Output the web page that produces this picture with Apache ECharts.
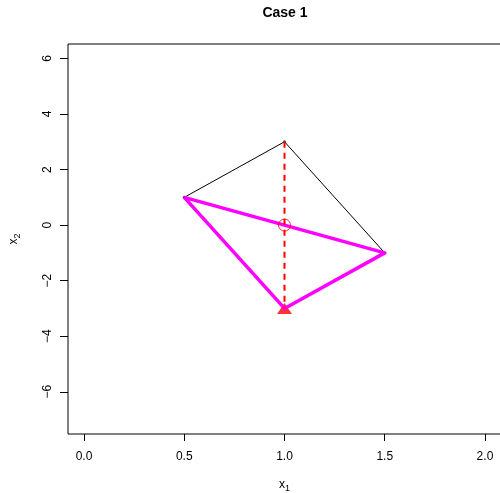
<!DOCTYPE html>
<html>
<head>
<meta charset="utf-8">
<script src="https://cdn.jsdelivr.net/npm/echarts@6/dist/echarts.min.js"></script>
<style>
html,body{margin:0;padding:0;background:#fff;}
#chart{width:500px;height:493px;}
</style>
</head>
<body>
<div id="chart"></div>
<script>
// ---- data ----
const titleText = 'Case 1';
const blackX = [1, 0.5, 1.5, 1];
const blackY = [3, 1, -1, 3];
const magentaX = [0.5, 1.5, 1, 0.5];
const magentaY = [1, -1, -3, 1];
const dashX = [1, 1];
const dashY = [3, -3];
const circleX = [1];
const circleY = [0];
const triX = [1];
const triY = [-3];
const xTicks = [0, 0.5, 1, 1.5, 2];
const yTicks = [-6, -4, -2, 0, 2, 4, 6];
const xRange = [-0.08, 2.08];
const yRange = [-7.52, 6.52];

function pairs(xs, ys) { return xs.map((x, i) => [x, ys[i]]); }
const FONT = 'Liberation Sans, Arial, Helvetica, sans-serif';

const chart = echarts.init(document.getElementById('chart'), null, {renderer: 'canvas'});
chart.setOption({
  animation: false,
  backgroundColor: '#ffffff',
  textStyle: {fontFamily: FONT},
  grid: {
    left: 68, top: 44, width: 433, height: 390,
    show: true, borderColor: '#000', borderWidth: 1,
    backgroundColor: 'transparent',
    containLabel: false, outerBoundsMode: 'none'
  },
  graphic: [{
    type: 'text', x: 285, y: 13,
    style: {text: titleText, font: 'bold 14px ' + FONT, fill: '#000',
            textAlign: 'center', textVerticalAlign: 'middle'}
  }],
  xAxis: {
    type: 'value', min: xRange[0], max: xRange[1],
    splitLine: {show: false},
    axisLine: {show: false, onZero: false},
    axisTick: {show: true, inside: false, length: 7, customValues: xTicks,
               lineStyle: {color: '#000', width: 1}},
    axisLabel: {show: true, customValues: xTicks, margin: 17,
                formatter: v => v.toFixed(1),
                color: '#000', fontSize: 12, fontFamily: FONT},
    name: '{a|x}{b|1}', nameLocation: 'middle', nameGap: 43,
    nameTextStyle: {
      color: '#000',
      rich: {
        a: {fontSize: 12, fontFamily: FONT, color: '#000'},
        b: {fontSize: 9, fontFamily: FONT, color: '#000', padding: [7, 0, 0, 0]}
      }
    }
  },
  yAxis: {
    type: 'value', min: yRange[0], max: yRange[1],
    splitLine: {show: false},
    axisLine: {show: false, onZero: false},
    axisTick: {show: true, inside: false, length: 8, customValues: yTicks,
               lineStyle: {color: '#000', width: 1}},
    axisLabel: {show: true, customValues: yTicks, rotate: 90, margin: 14,
                formatter: v => (v < 0 ? '\u2212' + Math.abs(v) : String(v)),
                color: '#000', fontSize: 12, fontFamily: FONT},
    name: '{a|x}{b|2}', nameLocation: 'middle', nameGap: 46,
    nameTextStyle: {
      color: '#000',
      rich: {
        a: {fontSize: 12, fontFamily: FONT, color: '#000'},
        b: {fontSize: 9, fontFamily: FONT, color: '#000', padding: [7, 0, 0, 0]}
      }
    }
  },
  series: [
    {
      type: 'line', data: pairs(blackX, blackY), symbol: 'none', z: 1,
      lineStyle: {color: '#000', width: 1}
    },
    {
      type: 'scatter', data: pairs(blackX.slice(0, 3), blackY.slice(0, 3)),
      symbol: 'circle', symbolSize: 3, z: 2,
      itemStyle: {color: '#222'}
    },
    {
      type: 'scatter', data: pairs(triX, triY), symbol: 'triangle',
      symbolSize: [15, 11], z: 3,
      itemStyle: {color: '#ff0000'}
    },
    {
      type: 'line', data: pairs(magentaX, magentaY), symbol: 'none', z: 4,
      lineStyle: {color: '#ff00ff', width: 3.5, join: 'round'}
    },
    {
      type: 'line', data: pairs(dashX, dashY), symbol: 'none', z: 5,
      lineStyle: {color: '#ff0000', width: 2, type: [6, 5]}
    },
    {
      type: 'scatter', data: pairs(circleX, circleY), symbol: 'circle',
      symbolSize: 12, z: 6,
      itemStyle: {color: 'rgba(0,0,0,0)', borderColor: '#ff0000', borderWidth: 1}
    }
  ]
});
</script>
</body>
</html>
